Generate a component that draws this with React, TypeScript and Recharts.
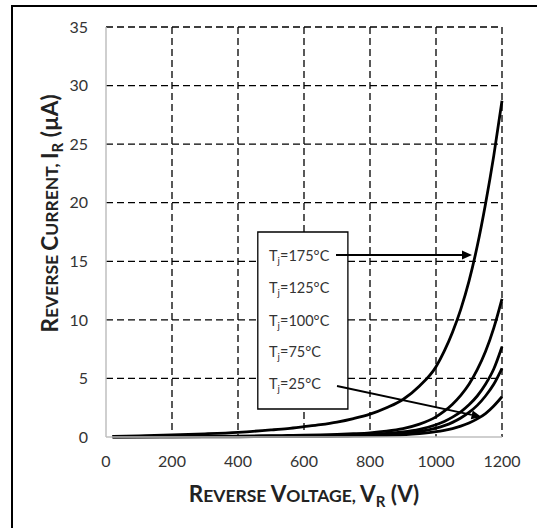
import React from 'react';
import {
  LineChart,
  Line,
  XAxis,
  YAxis,
  CartesianGrid,
  ReferenceArea,
  ReferenceLine,
  ReferenceDot,
} from 'recharts';

// ---- data ----
const voltages = [20, 100, 200, 300, 400, 500, 550, 600, 650, 700, 750, 800, 850, 900, 950, 1000, 1025, 1050, 1075, 1100, 1125, 1150, 1175, 1200];
const iR175 = [0.05, 0.1, 0.17, 0.27, 0.4, 0.6, 0.72, 0.88, 1.05, 1.27, 1.57, 1.95, 2.5, 3.2, 4.35, 6.0, 7.33, 8.95, 10.9, 13.3, 16.3, 19.9, 24.0, 28.7];
const iR125 = [0.02, 0.03, 0.05, 0.06, 0.08, 0.11, 0.13, 0.15, 0.18, 0.22, 0.28, 0.36, 0.5, 0.72, 1.1, 1.72, 2.2, 2.8, 3.55, 4.5, 5.75, 7.3, 9.3, 11.8];
const iR100 = [0.01, 0.02, 0.03, 0.04, 0.05, 0.07, 0.08, 0.09, 0.11, 0.13, 0.17, 0.22, 0.3, 0.43, 0.66, 1.05, 1.33, 1.7, 2.15, 2.75, 3.5, 4.5, 5.8, 7.7];
const iR75 = [0.01, 0.01, 0.02, 0.03, 0.04, 0.05, 0.055, 0.06, 0.075, 0.09, 0.12, 0.15, 0.2, 0.3, 0.47, 0.76, 0.97, 1.25, 1.62, 2.1, 2.7, 3.5, 4.5, 5.86];
const iR25 = [0.01, 0.01, 0.01, 0.02, 0.02, 0.03, 0.03, 0.03, 0.04, 0.05, 0.07, 0.09, 0.13, 0.19, 0.29, 0.45, 0.57, 0.72, 0.93, 1.2, 1.55, 2.0, 2.65, 3.44];

const xTicks = [0, 200, 400, 600, 800, 1000, 1200];
const yTicks = [0, 5, 10, 15, 20, 25, 30, 35];
const xGrid = [200, 400, 600, 800, 1000, 1200];
const yGrid = [5, 10, 15, 20, 25, 30, 35];

const seriesKeys = ['t175', 't125', 't100', 't75', 't25'];
const legendTemps = ['175', '125', '100', '75', '25'];

// annotation anchors in data units (V, µA)
const legendBaselines = [15.02, 12.29, 9.5, 6.86, 4.1];
const legendTextV = 494;
const legendBox = { x1: 460, x2: 733, y1: 2.39, y2: 17.5 };
const arrow175 = [{ x: 697, y: 15.54 }, { x: 1109, y: 15.54 }];
const arrow25 = [{ x: 700, y: 4.35 }, { x: 1138, y: 1.71 }];

const data = voltages.map((v, i) => ({
  v,
  t175: iR175[i],
  t125: iR125[i],
  t100: iR100[i],
  t75: iR75[i],
  t25: iR25[i],
}));

const FONT = 'Lato, "Open Sans", sans-serif';

const ArrowShape = (p: any) => {
  const { x1, y1, x2, y2 } = p;
  const ang = Math.atan2(y2 - y1, x2 - x1);
  const L = 10;
  const W = 4.5;
  const bx = x2 - L * Math.cos(ang);
  const by = y2 - L * Math.sin(ang);
  const px = -Math.sin(ang) * W;
  const py = Math.cos(ang) * W;
  return (
    <g>
      <line x1={x1} y1={y1} x2={bx} y2={by} stroke="#000" strokeWidth={2} />
      <polygon points={`${x2},${y2} ${bx + px},${by + py} ${bx - px},${by - py}`} fill="#000" />
    </g>
  );
};

const makeLabelShape = (temp: string) => (p: any) => (
  <text x={p.cx} y={p.cy} fontFamily={FONT} fontSize={14.5} fill="#333">
    T
    <tspan fontSize={10} dy={3}>j</tspan>
    <tspan dy={-3}>{`=${temp}°C`}</tspan>
  </text>
);

export default function App() {
  return (
    <div
      style={{
        position: 'fixed',
        left: 0,
        top: 0,
        width: 537,
        height: 528,
        overflow: 'hidden',
        background: '#fff',
      }}
    >
      <LineChart
        width={537}
        height={528}
        data={data}
        margin={{ top: 27, right: 35, bottom: 61, left: 46 }}
      >
        <CartesianGrid
          stroke="#000"
          strokeWidth={1.3}
          strokeDasharray="7 4"
          verticalValues={xGrid}
          horizontalValues={yGrid}
        />
        <XAxis
          dataKey="v"
          type="number"
          domain={[0, 1200]}
          ticks={xTicks}
          interval={0}
          tickLine={false}
          tickSize={6}
          tickMargin={13}
          height={30}
          axisLine={{ stroke: '#bfbfbf', strokeWidth: 1.5 }}
          tick={{ fontFamily: FONT, fontSize: 16, fill: '#333' }}
        />
        <YAxis
          type="number"
          domain={[0, 35]}
          ticks={yTicks}
          interval={0}
          width={60}
          tickLine={false}
          tickSize={6}
          tickMargin={12}
          axisLine={{ stroke: '#bfbfbf', strokeWidth: 1.5 }}
          tick={{ fontFamily: FONT, fontSize: 16, fill: '#333' }}
        />
        {seriesKeys.map((k) => (
          <Line
            key={k}
            dataKey={k}
            type="monotone"
            stroke="#000"
            strokeWidth={2.8}
            dot={false}
            activeDot={false}
            isAnimationActive={false}
          />
        ))}
        <ReferenceArea
          x1={legendBox.x1}
          x2={legendBox.x2}
          y1={legendBox.y1}
          y2={legendBox.y2}
          fill="#fff"
          fillOpacity={1}
          stroke="#000"
          strokeWidth={1.3}
        />
        {legendTemps.map((t, i) => (
          <ReferenceDot
            key={t}
            x={legendTextV}
            y={legendBaselines[i]}
            r={0}
            shape={makeLabelShape(t)}
          />
        ))}
        <ReferenceLine segment={arrow175} shape={ArrowShape} />
        <ReferenceLine segment={arrow25} shape={ArrowShape} />
      </LineChart>

      <svg
        width={537}
        height={528}
        style={{ position: 'absolute', left: 0, top: 0, pointerEvents: 'none' }}
      >
        <text x={304} y={501.5} textAnchor="middle" fontFamily={FONT} fontWeight={700} fontSize={22.5} fill="#222">
          R<tspan fontSize={17.5}>EVERSE </tspan>V<tspan fontSize={17.5}>OLTAGE, </tspan>V
          <tspan fontSize={15} dy={5}>R</tspan>
          <tspan dy={-5}> (V)</tspan>
        </text>
        <text
          transform="translate(58,213.5) rotate(-90)"
          x={0}
          y={0}
          textAnchor="middle"
          fontFamily={FONT}
          fontWeight={700}
          fontSize={22.5}
          fill="#222"
        >
          R<tspan fontSize={17.5}>EVERSE </tspan>C<tspan fontSize={17.5}>URRENT, </tspan>I
          <tspan fontSize={15} dy={5}>R</tspan>
          <tspan dy={-5}> (µA)</tspan>
        </text>
      </svg>
      <div
        style={{
          position: 'absolute',
          left: 11,
          top: 5,
          width: 700,
          height: 700,
          borderLeft: '2px solid #000',
          borderTop: '2px solid #000',
        }}
      />
    </div>
  );
}
